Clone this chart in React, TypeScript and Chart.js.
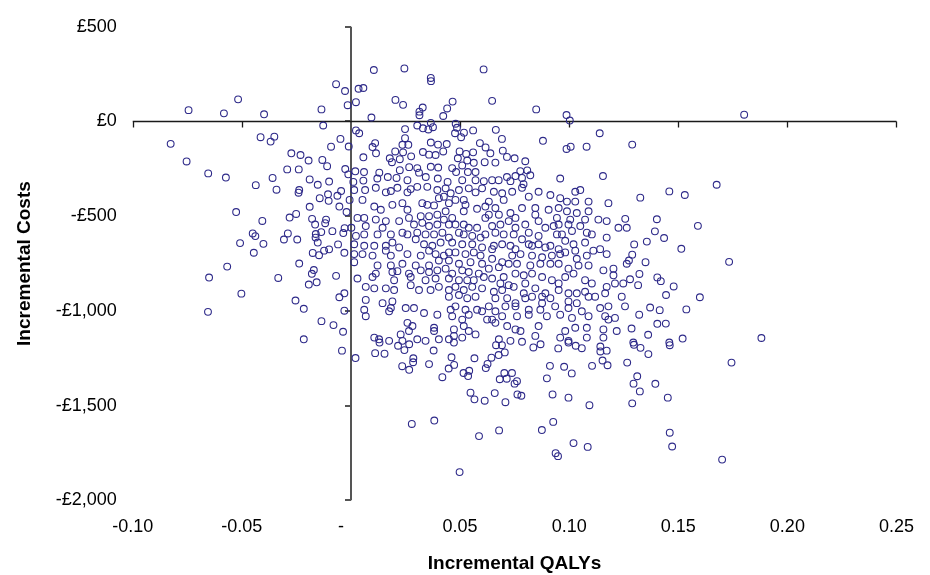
import React, { useEffect, useRef } from "react";
import { Chart, registerables } from "chart.js";

Chart.register(...registerables);

// Axis definitions
const xMin = -0.1;
const xMax = 0.25;
const xStep = 0.05;
const yMin = -2000;
const yMax = 500;
const yStep = 500;
const xAxisTitle = "Incremental QALYs";
const yAxisTitle = "Incremental Costs";

// Scatter values [incremental QALYs, incremental cost £], read region by region
const pointsLeft: number[][] = [
  [-0.0068,197],[-0.0027,161],[-0.0015,86],[-0.0517,117],[-0.0744,60],[-0.0582,43],[-0.0398,38],[-0.0135,64],[-0.0127,-21],[-0.0826,-118],[-0.0414,-83],[-0.0351,-80],[-0.0368,-106],[-0.0048,-92],[-0.0091,-133],[-0.0010,-132],[-0.0753,-211],[-0.0654,-274],[-0.0573,-296],[-0.0273,-168],[-0.0231,-177],[-0.0194,-206],[-0.0131,-203],[-0.0109,-236],[-0.0292,-253],[-0.0239,-253],[-0.0026,-251],[-0.0436,-336],[-0.0359,-298],[-0.0341,-360],[-0.0237,-362],[-0.0240,-376],[-0.0189,-306],[-0.0152,-334],[-0.0100,-317],[-0.0045,-367],[-0.0062,-392],[-0.0105,-384],[-0.0143,-405],[-0.0102,-419],[-0.0053,-449],[-0.0020,-478],[-0.0189,-450],[-0.0526,-478],[-0.0406,-525],[-0.0281,-507],[-0.0251,-488],[-0.0178,-514],[-0.0164,-544],[-0.0114,-518],[-0.0118,-537],[-0.0029,-563],[-0.0085,-579],[-0.0035,-589],[-0.0136,-584],[-0.0161,-594],[-0.0162,-613],[-0.0450,-591],[-0.0438,-605],[-0.0289,-591],[-0.0307,-623],[-0.0246,-623],[-0.0152,-639],[-0.0508,-642],[-0.0401,-646],[-0.0445,-693],[-0.0059,-649],[-0.0175,-694],[-0.0146,-706],[-0.0123,-682],[-0.0100,-675],[-0.0030,-693],[-0.0237,-750],[-0.0567,-766],[-0.0650,-824],[-0.0333,-826],[-0.0170,-784],[-0.0179,-804],[-0.0193,-861],[-0.0157,-849],[-0.0068,-815],[-0.0502,-909],[-0.0655,-1005],[-0.0254,-945],[-0.0216,-989],[-0.0053,-928],[-0.0030,-907],[-0.0030,-999],[-0.0135,-1054],[-0.0080,-1075],[-0.0036,-1110],[-0.0216,-1150],[-0.0041,-1210]
];

const pointsUpperMiddle: number[][] = [
  [0.0105,272],[0.0245,280],[0.0366,230],[0.0367,213],[0.0608,275],[0.0035,173],[0.0057,177],[0.0023,102],[0.0204,114],[0.0239,88],[0.0329,74],[0.0314,52],[0.0314,33],[0.0441,69],[0.0466,105],[0.0423,29],[0.0094,21],[0.0023,-47],[0.0038,-62],[0.0248,-40],[0.0304,-21],[0.0330,-36],[0.0366,-7],[0.0376,-30],[0.0355,-42],[0.0480,-12],[0.0486,-33],[0.0477,-62],[0.0518,-59],[0.0505,-83],[0.0560,-47],[0.0248,-88],[0.0111,-114],[0.0099,-135],[0.0115,-168],[0.0057,-189],[0.0236,-123],[0.0263,-123],[0.0366,-111],[0.0399,-122],[0.0439,-119],[0.0203,-158],[0.0239,-163],[0.0276,-184],[0.0178,-194],[0.0188,-215],[0.0224,-199],[0.0330,-161],[0.0358,-175],[0.0388,-177],[0.0423,-158],[0.0498,-158],[0.0528,-171],[0.0560,-163],[0.0490,-194],[0.0533,-206],[0.0563,-218],[0.0591,-114],[0.0617,-137],[0.0613,-215],[0.0224,-257],[0.0267,-241],[0.0304,-246],[0.0366,-239],[0.0400,-243],[0.0312,-270],[0.0020,-263],[0.0060,-267],[0.0130,-270],[0.0464,-246],[0.0482,-267],[0.0536,-267],[0.0510,-232],[0.0571,-267],[-0.0012,-279],[0.0057,-312],[0.0121,-301],[0.0169,-293],[0.0209,-298],[0.0259,-310],[0.0343,-293],[0.0398,-301],[0.0443,-319],[0.0510,-310],[0.0571,-310],[0.0609,-315],[0.0011,-319]
];

const pointsUpperRight: number[][] = [
  [0.0647,109],[0.0849,64],[0.0988,34],[0.1003,5],[0.0664,-44],[0.0692,-92],[0.0880,-102],[0.1140,-62],[0.0988,-145],[0.1007,-133],[0.1080,-133],[0.0696,-154],[0.0639,-168],[0.0715,-187],[0.0750,-194],[0.0662,-217],[0.0799,-210],[0.0776,-262],[0.0808,-258],[0.0822,-284],[0.0754,-288],[0.0715,-293],[0.0784,-298],[0.0959,-301],[0.1155,-288],[0.0647,-310],[0.0677,-310],[0.0731,-315],[0.0791,-331]
];

const pointsFarRight: number[][] = [
  [0.1802,36],[0.1289,-122],[0.1676,-334],[0.1459,-369],[0.1530,-388],[0.1326,-402],[0.1257,-514],[0.1402,-516],[0.1590,-551],[0.1393,-580],[0.1435,-615],[0.1356,-634],[0.1298,-649],[0.1514,-672],[0.1289,-703],[0.1274,-734],[0.1350,-743],[0.1733,-741],[0.1322,-805],[0.1404,-823],[0.1420,-843],[0.1279,-833],[0.1316,-864],[0.1479,-871],[0.1444,-916],[0.1599,-928],[0.1371,-982],[0.1415,-996],[0.1537,-992],[0.1321,-1020],[0.1404,-1068],[0.1443,-1067],[0.1286,-1093],[0.1362,-1126],[0.1520,-1146],[0.1881,-1143],[0.1459,-1167],[0.1294,-1167]
];

const pointsLowerRight: number[][] = [
  [0.0997,-1167],[0.1030,-1184],[0.1058,-1197],[0.1143,-1188],[0.1143,-1214],[0.1172,-1210],[0.1297,-1179],[0.1327,-1195],[0.1363,-1228],[0.1461,-1181],[0.1153,-1262],[0.1176,-1287],[0.1105,-1290],[0.1266,-1273],[0.0977,-1295],[0.1012,-1330],[0.1744,-1273],[0.1312,-1345],[0.1295,-1384],[0.1395,-1385],[0.1324,-1425],[0.0997,-1458],[0.1093,-1498],[0.1289,-1488],[0.1452,-1458],[0.1461,-1643],[0.1472,-1716],[0.1020,-1698],[0.1085,-1718],[0.0938,-1751],[0.0949,-1767],[0.1701,-1785]
];

const pointsLowerMiddle: number[][] = [
  [0.0021,-1249],[0.0111,-1223],[0.0154,-1226],[0.0131,-1167],[0.0216,-1184],[0.0267,-1176],[0.0245,-1207],[0.0286,-1250],[0.0285,-1271],[0.0235,-1292],[0.0267,-1311],[0.0379,-1209],[0.0358,-1281],[0.0461,-1245],[0.0473,-1285],[0.0448,-1304],[0.0419,-1350],[0.0566,-1250],[0.0472,-1167],[0.0516,-1328],[0.0542,-1316],[0.0537,-1344],[0.0618,-1302],[0.0626,-1280],[0.0644,-1247],[0.0677,-1233],[0.0705,-1219],[0.0665,-1181],[0.0692,-1181],[0.0703,-1328],[0.0738,-1328],[0.0682,-1361],[0.0714,-1358],[0.0761,-1371],[0.0750,-1384],[0.0836,-1193],[0.0869,-1176],[0.0950,-1198],[0.0912,-1290],[0.0898,-1356],[0.0548,-1432],[0.0566,-1467],[0.0613,-1474],[0.0659,-1434],[0.0708,-1482],[0.0763,-1441],[0.0781,-1448],[0.0924,-1441],[0.0279,-1597],[0.0382,-1579],[0.0587,-1661],[0.0679,-1631],[0.0875,-1629],[0.0927,-1586],[0.0498,-1851]
];

const pointsCoreLeft: number[][] = [
  [0.0015,-362],[0.0065,-362],[0.0114,-350],[0.0160,-374],[0.0183,-367],[0.0213,-350],[0.0259,-374],[0.0274,-357],[0.0304,-345],[0.0350,-345],[0.0396,-362],[0.0434,-353],[0.0457,-379],[0.0495,-362],[0.0540,-353],[0.0571,-374],[0.0601,-353],[-0.0006,-414],[0.0053,-414],
  [0.0107,-449],[0.0137,-466],[0.0190,-440],[0.0236,-431],[0.0259,-466],[0.0327,-431],[0.0350,-440],[0.0381,-443],[0.0403,-405],[0.0426,-397],[0.0449,-431],[0.0479,-414],[0.0517,-414],[0.0525,-440],[0.0517,-474],[0.0578,-461],[0.0616,-449],[0.0434,-474],[0.0396,-492],[0.0464,-509],
  [0.0030,-509],[0.0061,-509],[0.0114,-518],[0.0160,-526],[0.0221,-526],[0.0266,-509],[0.0289,-544],[0.0320,-500],[0.0358,-500],[0.0327,-535],[0.0358,-552],[0.0396,-544],[0.0426,-518],[0.0449,-544],[0.0479,-544],[0.0517,-544],[0.0540,-561],[0.0578,-561],[0.0616,-509],[0.0002,-561],[0.0068,-552],[0.0145,-561],
  [0.0023,-604],[0.0061,-596],[0.0122,-596],[0.0183,-596],[0.0236,-587],[0.0259,-596],[0.0304,-587],[0.0342,-596],[0.0381,-596],[0.0419,-587],[0.0449,-613],[0.0495,-587],[0.0517,-596],[0.0556,-604],[0.0594,-613],[0.0616,-596],[0.0015,-648],[0.0061,-656],[0.0107,-656],[0.0160,-656],[0.0190,-639],[0.0221,-665],[0.0297,-622],[0.0335,-648],[0.0373,-656],[0.0411,-639],[0.0464,-639],[0.0510,-648],[0.0556,-648],[0.0601,-665],
  [0.0015,-700],[0.0053,-700],[0.0099,-708],[0.0160,-682],[0.0183,-708],[0.0259,-700],[0.0320,-708],[0.0358,-682],[0.0388,-700],[0.0426,-708],[0.0449,-691],[0.0479,-691],[0.0525,-700],[0.0563,-691],[0.0594,-708],[0.0015,-743],[0.0122,-760],[0.0183,-760],[0.0236,-751],[0.0297,-760],[0.0358,-760],[0.0403,-734],[0.0449,-734],[0.0495,-751],[0.0548,-743],[0.0601,-751],
  [0.0114,-803],[0.0190,-795],[0.0213,-790],[0.0266,-803],[0.0320,-786],[0.0358,-795],[0.0396,-786],[0.0434,-777],[0.0464,-803],[0.0510,-786],[0.0540,-795],[0.0586,-803],[0.0030,-829],[0.0099,-821],[0.0198,-838],[0.0274,-821],[0.0342,-838],[0.0388,-829],[0.0449,-829],[0.0495,-838],[0.0533,-838],[0.0563,-838],[0.0609,-821],
  [0.0068,-873],[0.0107,-881],[0.0160,-881],[0.0198,-890],[0.0274,-864],[0.0312,-890],[0.0365,-890],[0.0403,-873],[0.0449,-890],[0.0479,-873],[0.0517,-890],[0.0556,-873],[0.0601,-881],[0.0068,-942],[0.0449,-925],[0.0495,-916],[0.0533,-933],[0.0571,-925],
  [0.0145,-959],[0.0183,-985],[0.0190,-950],[0.0175,-1002],[0.0251,-985],[0.0289,-985],[0.0335,-1011],[0.0396,-1020],[0.0457,-994],[0.0479,-976],[0.0525,-994],[0.0578,-994],[0.0061,-994],[0.0068,-1028],[0.0464,-1028],[0.0510,-1046],[0.0540,-1020],[0.0601,-1002],[0.0624,-1046],
  [0.0259,-1063],[0.0282,-1080],[0.0266,-1106],[0.0228,-1124],[0.0381,-1089],[0.0381,-1106],[0.0472,-1098],[0.0517,-1080],[0.0540,-1106],[0.0571,-1124],[0.0472,-1132],[0.0510,-1141],[0.0107,-1141],[0.0129,-1150],[0.0175,-1158],[0.0236,-1158],[0.0304,-1150],[0.0342,-1158],[0.0403,-1150],[0.0449,-1150]
];

const pointsCoreRight: number[][] = [
  [0.0655,-371],[0.0693,-379],[0.0739,-371],[0.0784,-350],[0.0815,-397],[0.0860,-371],[0.0914,-388],[0.0959,-405],[0.0990,-423],[0.1028,-371],[0.1051,-362],[0.1028,-423],[0.1089,-423],[0.1180,-431],[0.0632,-423],[0.0700,-414],
  [0.0662,-457],[0.0678,-492],[0.0731,-483],[0.0754,-509],[0.0784,-457],[0.0845,-457],[0.0845,-492],[0.0906,-466],[0.0952,-457],[0.0990,-474],[0.1035,-483],[0.1089,-474],[0.1134,-518],[0.1172,-526],[0.1005,-518],[0.0632,-492],[0.0860,-526],[0.0944,-509],[0.1073,-518],
  [0.0647,-552],[0.0685,-544],[0.0723,-526],[0.0754,-561],[0.0799,-544],[0.0891,-561],[0.0929,-552],[0.0952,-544],[0.0997,-544],[0.1051,-552],[0.1081,-587],[0.1104,-596],[0.1226,-561],[0.1264,-561],[0.0662,-587],[0.0700,-596],[0.0746,-596],[0.0815,-587],[0.0860,-604],[0.0967,-596],[0.1013,-578],[0.0944,-596],[0.1172,-613],
  [0.0655,-656],[0.0693,-648],[0.0731,-656],[0.0784,-622],[0.0815,-648],[0.0860,-648],[0.0914,-656],[0.0982,-630],[0.1020,-648],[0.1073,-639],[0.1111,-682],[0.1142,-674],[0.0647,-674],[0.0754,-674],[0.0830,-656],[0.0891,-665],[0.0952,-674],[0.1028,-682],
  [0.0647,-725],[0.0693,-743],[0.0739,-708],[0.0777,-700],[0.0830,-708],[0.0876,-717],[0.0921,-708],[0.0959,-700],[0.0982,-691],[0.1035,-725],[0.1081,-708],[0.1172,-700],[0.0632,-777],[0.0678,-769],[0.0723,-751],[0.0761,-751],[0.0822,-760],[0.0868,-751],[0.0914,-751],[0.0952,-751],[0.0997,-777],[0.1043,-760],[0.1089,-760],[0.1157,-786],[0.1203,-777],[0.1264,-751],
  [0.0647,-829],[0.0700,-821],[0.0754,-803],[0.0792,-812],[0.0830,-803],[0.0876,-821],[0.0921,-838],[0.0952,-855],[0.0982,-821],[0.1020,-803],[0.1073,-838],[0.1104,-855],[0.1203,-812],[0.1210,-855],[0.1248,-855],[0.0685,-855],[0.0723,-864],[0.0799,-855],
  [0.0655,-899],[0.0693,-890],[0.0746,-873],[0.0792,-907],[0.0845,-881],[0.0891,-907],[0.0952,-890],[0.0997,-907],[0.1035,-907],[0.1073,-899],[0.1119,-925],[0.1172,-873],[0.1165,-907],[0.0662,-933],[0.0716,-933],[0.0754,-959],[0.0799,-933],[0.0830,-925],[0.0876,-925],[0.0914,-933],[0.0997,-950],[0.1035,-959],[0.1089,-925],[0.1241,-925],[0.1256,-976],
  [0.0632,-976],[0.0662,-1002],[0.0708,-976],[0.0754,-976],[0.0815,-994],[0.0868,-994],[0.0876,-959],[0.0936,-976],[0.0997,-985],[0.1058,-1002],[0.1142,-985],[0.1180,-976],[0.0647,-1046],[0.0693,-1028],[0.0761,-1028],[0.0815,-1020],[0.0898,-1028],[0.0959,-1020],[0.1013,-1037],[0.1089,-1028],[0.1165,-1028],[0.1210,-1037],[0.1180,-1046],
  [0.0662,-1063],[0.0716,-1080],[0.0754,-1098],[0.0777,-1106],[0.0860,-1080],[0.0982,-1106],[0.1028,-1089],[0.1081,-1089],[0.1157,-1098],[0.1218,-1106],[0.0845,-1132],[0.0959,-1141],[0.0997,-1158],[0.1081,-1141],[0.1157,-1141],[0.0678,-1150],[0.0731,-1158],[0.0784,-1163]
];

const allPoints = [
  ...pointsLeft,
  ...pointsUpperMiddle,
  ...pointsUpperRight,
  ...pointsFarRight,
  ...pointsLowerRight,
  ...pointsLowerMiddle,
  ...pointsCoreLeft,
  ...pointsCoreRight,
].map(([x, y]) => ({ x, y }));

const FONT = "'Liberation Sans', Arial, Helvetica, sans-serif";

function fmtCost(v: number): string {
  if (v === 0) return "£0";
  const s = Math.abs(v).toLocaleString("en-GB");
  return v < 0 ? "-£" + s : "£" + s;
}

function fmtQaly(v: number): string {
  if (Math.abs(v) < 1e-9) return "-    ";
  return v.toFixed(2);
}

const crossAxesPlugin = {
  id: "crossAxes",
  beforeDatasetsDraw(chart: any) {
    const { ctx } = chart;
    const xs = chart.scales.x;
    const ys = chart.scales.y;
    const x0 = Math.round(xs.getPixelForValue(0));
    const y0 = Math.round(ys.getPixelForValue(0)) + 0.5;
    ctx.save();
    // vertical axis at x = 0
    ctx.strokeStyle = "#555555";
    ctx.lineWidth = 2;
    ctx.beginPath();
    ctx.moveTo(x0, ys.getPixelForValue(yMax));
    ctx.lineTo(x0, ys.getPixelForValue(yMin));
    for (const t of ys.ticks) {
      const py = Math.round(ys.getPixelForValue(t.value));
      ctx.moveTo(x0, py);
      ctx.lineTo(x0 - 6, py);
    }
    ctx.stroke();
    // horizontal axis at y = 0
    ctx.strokeStyle = "#1a1a1a";
    ctx.lineWidth = 1.3;
    ctx.beginPath();
    ctx.moveTo(xs.getPixelForValue(xMin), y0);
    ctx.lineTo(xs.getPixelForValue(xMax), y0);
    for (const t of xs.ticks) {
      if (Math.abs(t.value) < 1e-9) continue;
      const px = Math.round(xs.getPixelForValue(t.value)) + 0.5;
      ctx.moveTo(px, y0);
      ctx.lineTo(px, y0 + 6);
    }
    ctx.stroke();
    ctx.restore();
  },
};

export default function App() {
  const canvasRef = useRef<HTMLCanvasElement | null>(null);

  useEffect(() => {
    if (!canvasRef.current) return;
    const chart = new Chart(canvasRef.current, {
      type: "scatter",
      data: {
        datasets: [
          {
            data: allPoints,
            pointStyle: "circle",
            pointRadius: 3.4,
            pointHoverRadius: 3.4,
            borderWidth: 1.1,
            borderColor: "#2f2b8a",
            backgroundColor: "rgba(255,255,255,0)",
          },
        ],
      },
      options: {
        animation: false,
        responsive: false,
        maintainAspectRatio: false,
        layout: { padding: { left: 0, top: 19, right: 30.7, bottom: 0 } },
        plugins: {
          legend: { display: false },
          tooltip: { enabled: false },
        },
        scales: {
          x: {
            type: "linear",
            min: xMin,
            max: xMax,
            afterFit: (scale: any) => {
              scale.height = 74.7;
            },
            grid: { display: false, drawTicks: false },
            border: { display: false },
            ticks: {
              stepSize: xStep,
              padding: 16,
              color: "#000",
              font: { family: FONT, size: 18 },
              callback: (v: any) => fmtQaly(Number(v)),
              maxRotation: 0,
              autoSkip: false,
            },
            title: {
              display: true,
              text: xAxisTitle,
              color: "#000",
              font: { family: FONT, size: 19, weight: "bold" },
              padding: { top: 0, bottom: 0 },
            },
          },
          y: {
            type: "linear",
            min: yMin,
            max: yMax,
            afterFit: (scale: any) => {
              scale.width = 132.7;
            },
            grid: { display: false, drawTicks: false },
            border: { display: false },
            ticks: {
              stepSize: yStep,
              padding: 16,
              color: "#000",
              font: { family: FONT, size: 18 },
              callback: (v: any) => fmtCost(Number(v)),
              autoSkip: false,
            },
            title: {
              display: true,
              text: yAxisTitle,
              color: "#000",
              font: { family: FONT, size: 19, weight: "bold" },
              padding: { top: 13, bottom: 0 },
            },
          },
        },
      },
      plugins: [crossAxesPlugin],
    });
    return () => chart.destroy();
  }, []);

  return (
    <div style={{ position: "absolute", left: 0, top: 0, width: 930, height: 575, background: "#fff" }}>
      <canvas ref={canvasRef} width={930} height={575} />
    </div>
  );
}
